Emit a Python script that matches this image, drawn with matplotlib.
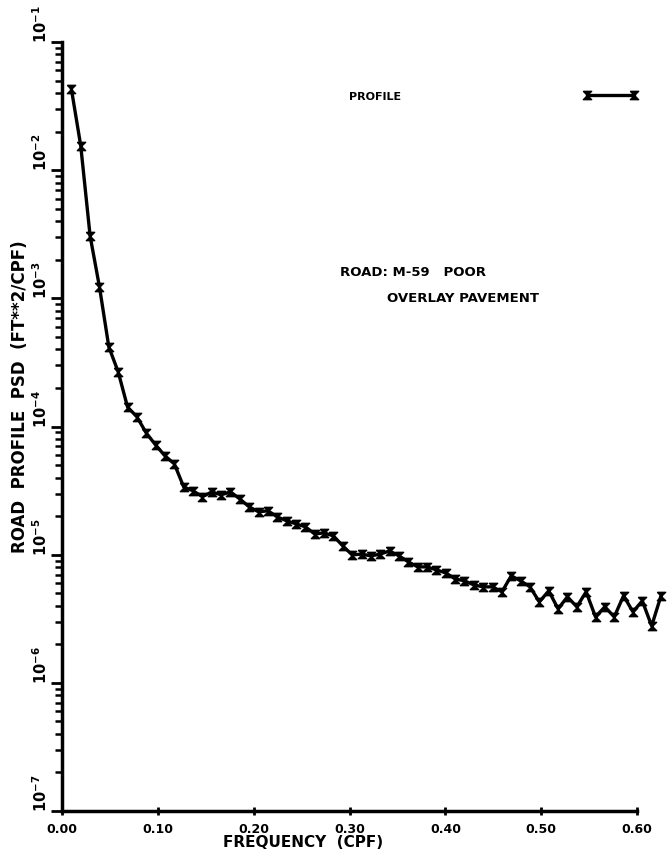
import matplotlib
matplotlib.use("Agg")
import matplotlib.pyplot as plt
from matplotlib.ticker import FixedLocator, LogLocator, NullFormatter

plt.rcParams['font.family'] = ['DejaVu Sans']
plt.rcParams['font.weight'] = 'bold'

# frequency step of the spectrum (cpf) and PSD values
df = 1 / 102.4
psd = [4.30e-2, 1.55e-2, 3.07e-3, 1.23e-3, 4.18e-4, 2.67e-4, 1.42e-4, 1.19e-4,
       8.90e-5, 7.18e-5, 5.90e-5, 5.11e-5, 3.38e-5, 3.15e-5, 2.83e-5, 3.09e-5,
       2.93e-5, 3.09e-5, 2.72e-5, 2.36e-5, 2.16e-5, 2.20e-5, 1.97e-5, 1.84e-5,
       1.74e-5, 1.65e-5, 1.45e-5, 1.48e-5, 1.40e-5, 1.17e-5, 9.96e-6, 1.01e-5,
       9.79e-6, 1.01e-5, 1.07e-5, 9.79e-6, 8.79e-6, 8.03e-6, 8.03e-6, 7.61e-6,
       7.21e-6, 6.47e-6, 6.25e-6, 5.81e-6, 5.61e-6, 5.61e-6, 5.13e-6, 6.84e-6,
       6.25e-6, 5.61e-6, 4.28e-6, 5.22e-6, 3.78e-6, 4.69e-6, 3.92e-6, 5.13e-6,
       3.27e-6, 3.92e-6, 3.27e-6, 4.78e-6, 3.58e-6, 4.36e-6, 2.78e-6, 4.78e-6]
freq = [(k + 1) * df for k in range(len(psd))]

xticks = [0.0, 0.1, 0.2, 0.3, 0.4, 0.5, 0.6]
xticklabels = ['0.00', '0.10', '0.20', '0.30', '0.40', '0.50', '0.60']
yticks = [1e-7, 1e-6, 1e-5, 1e-4, 1e-3, 1e-2, 1e-1]
yticklabels = [r'$\mathbf{10^{-7}}$', r'$\mathbf{10^{-6}}$', r'$\mathbf{10^{-5}}$',
               r'$\mathbf{10^{-4}}$', r'$\mathbf{10^{-3}}$', r'$\mathbf{10^{-2}}$',
               r'$\mathbf{10^{-1}}$']

# hourglass marker like the plotter symbol
hourglass = [(-1, 1), (1, 1), (-1, -1), (1, -1), (-1, 1)]

fig = plt.figure(figsize=(6.72, 8.54), dpi=100)
ax = fig.add_axes([0.0923, 0.0492, 0.8557, 0.9004])

ax.plot(freq, psd, color='black', linewidth=2.4, marker=hourglass,
        markersize=6, markeredgewidth=1, label='PROFILE', clip_on=False)

ax.set_yscale('log')
ax.set_xlim(0, 0.6)
ax.set_ylim(1e-7, 1e-1)

for s in ['top', 'right']:
    ax.spines[s].set_visible(False)
for s in ['left', 'bottom']:
    ax.spines[s].set_linewidth(2.5)

ax.xaxis.set_major_locator(FixedLocator(xticks))
ax.set_xticklabels(xticklabels, fontsize=9, fontweight='bold')
ax.tick_params(axis='x', direction='inout', length=6, width=2, pad=5)

ax.yaxis.set_major_locator(FixedLocator(yticks))
ax.yaxis.set_minor_locator(LogLocator(base=10, subs=range(2, 10), numticks=20))
ax.yaxis.set_minor_formatter(NullFormatter())
ax.set_yticklabels(yticklabels, fontsize=10.5, rotation=90, va='bottom')
ax.tick_params(axis='y', which='major', direction='out', length=8, width=2, pad=1)
ax.tick_params(axis='y', which='minor', direction='out', length=5, width=1.8)

ax.set_ylabel('ROAD  PROFILE  PSD  (FT**2/CPF)', fontsize=12, fontweight='bold')
ax.yaxis.set_label_coords(-0.058, 0.54)
ax.set_xlabel('FREQUENCY  (CPF)', fontsize=11, fontweight='bold')
ax.xaxis.set_label_coords(0.42, -0.03)

ax.text(0.484, 0.702, 'ROAD: M-59   POOR', transform=ax.transAxes,
        fontsize=9.5, fontweight='bold', va='center')
ax.text(0.565, 0.668, 'OVERLAY PAVEMENT', transform=ax.transAxes,
        fontsize=9.5, fontweight='bold', va='center')

ax.legend(loc='center right', bbox_to_anchor=(637 / 672, 1 - 97 / 854),
          bbox_transform=fig.transFigure, frameon=False, markerfirst=False,
          numpoints=2, handlelength=4.8, handletextpad=16.4, borderpad=0,
          borderaxespad=0, prop={'size': 8, 'weight': 'bold'})

fig.savefig('out.png', dpi=100)
